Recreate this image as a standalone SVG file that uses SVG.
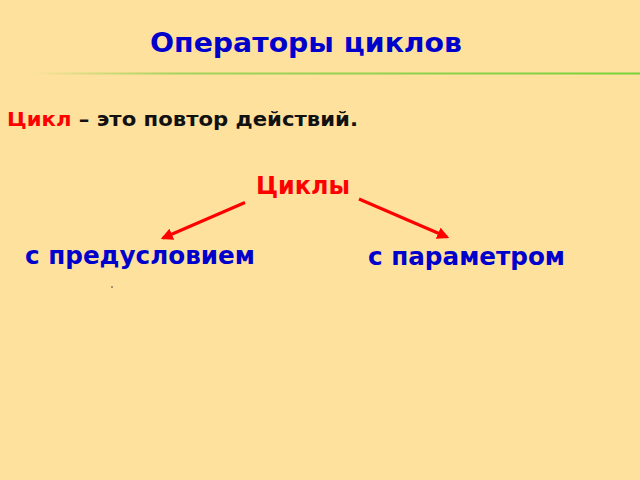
<svg xmlns="http://www.w3.org/2000/svg" width="640" height="480" viewBox="0 0 640 480">
<style>
.t{font-family:"DejaVu Sans",Verdana,sans-serif;font-weight:bold}
.blue{fill:#0000CC}
.red{fill:#FF0000}
.blk{fill:#111111}
.arr{stroke:#FF0000;stroke-width:3;fill:none;marker-end:url(#ah)}
</style>
<defs>
<linearGradient id="gl" x1="0" y1="0" x2="1" y2="0">
<stop offset="0" stop-color="#7CD03A" stop-opacity="0"/>
<stop offset="0.25" stop-color="#8CCF4A" stop-opacity="0.8"/>
<stop offset="1" stop-color="#76D23A"/>
</linearGradient>
<marker id="ah" markerWidth="4" markerHeight="4" refX="3.2" refY="2" orient="auto" markerUnits="strokeWidth">
<path d="M0,0 L4,2 L0,4 Z" fill="#FF0000"/>
</marker>
</defs>
<rect x="0" y="0" width="640" height="480" fill="#FFE19E"/>
<g id="title">
<text class="t blue" x="150" y="52" font-size="26" textLength="312" lengthAdjust="spacingAndGlyphs">Операторы циклов</text>
<rect x="30" y="72.5" width="610" height="2" fill="url(#gl)"/>
</g>
<g id="definition">
<text class="t" x="7" y="126" font-size="19" textLength="351" lengthAdjust="spacingAndGlyphs"><tspan class="red">Цикл</tspan><tspan class="blk"> – это повтор действий.</tspan></text>
</g>
<g id="cycles">
<text class="t red" x="256" y="194" font-size="24" textLength="94" lengthAdjust="spacingAndGlyphs">Циклы</text>
</g>
<g id="precondition">
<text class="t blue" x="25" y="264" font-size="24" textLength="230" lengthAdjust="spacingAndGlyphs">с предусловием</text>
</g>
<g id="parameter">
<text class="t blue" x="368" y="265" font-size="24" textLength="197" lengthAdjust="spacingAndGlyphs">с параметром</text>
</g>
<g id="connectors">
<line class="arr" x1="245" y1="202.5" x2="163" y2="238"/>
<line class="arr" x1="359" y1="199" x2="447" y2="237"/>
</g>
<circle cx="112" cy="287" r="0.8" fill="#333333"/>
</svg>
